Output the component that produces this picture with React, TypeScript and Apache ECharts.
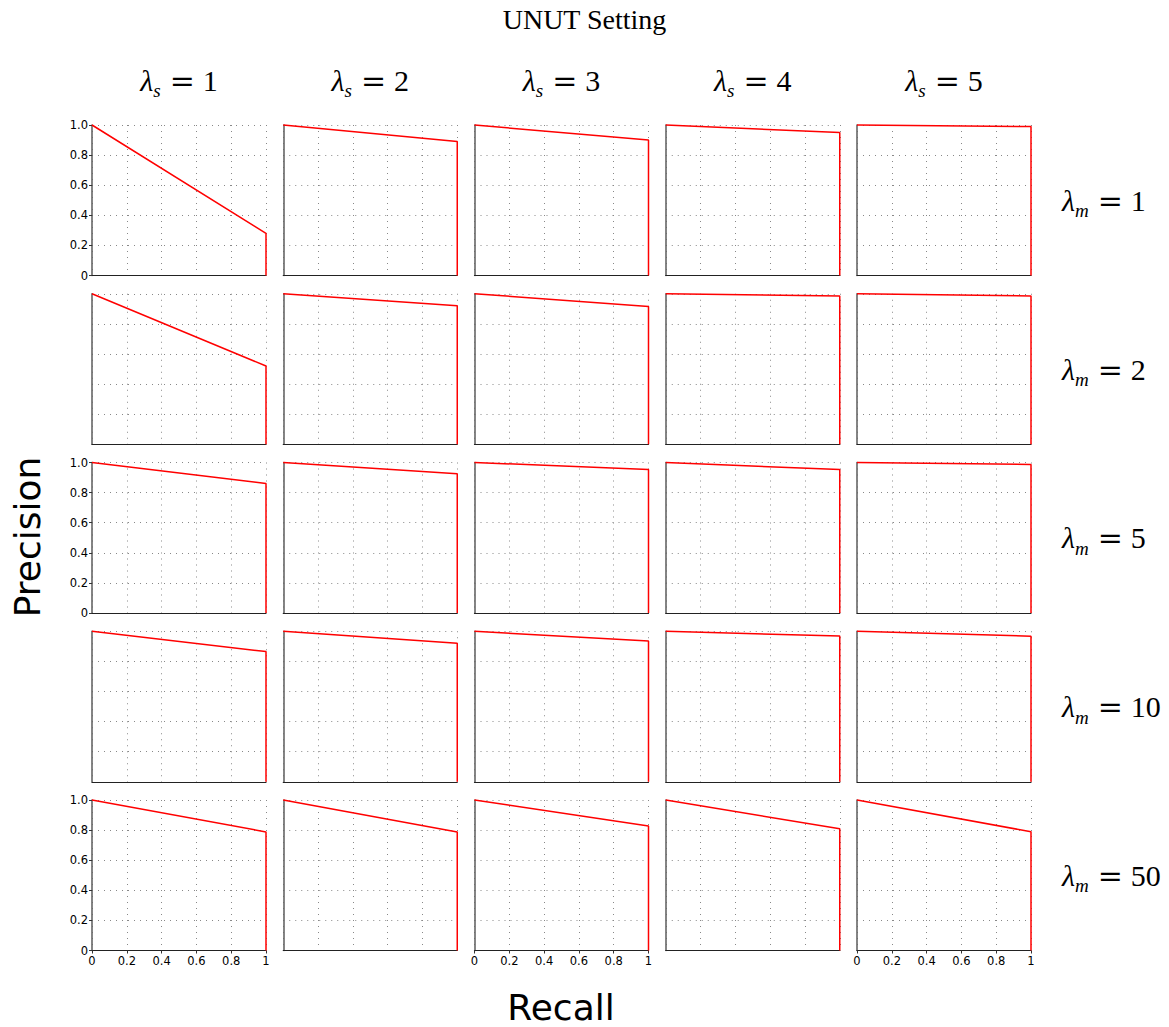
import React, { useEffect, useRef } from "react";
import * as echarts from "echarts";

// Column / row parameters
const lambdaS = [1, 2, 3, 4, 5];
const lambdaM = [1, 2, 5, 10, 50];

// Precision reached at recall = 1 (curve starts at precision 1 at recall 0)
const endPrecisionM1 = [0.28, 0.89, 0.9, 0.95, 0.99];
const endPrecisionM2 = [0.52, 0.92, 0.915, 0.985, 0.985];
const endPrecisionM5 = [0.86, 0.925, 0.953, 0.953, 0.987];
const endPrecisionM10 = [0.865, 0.92, 0.935, 0.968, 0.967];
const endPrecisionM50 = [0.788, 0.787, 0.827, 0.809, 0.789];
const endPrecisionRows = [endPrecisionM1, endPrecisionM2, endPrecisionM5, endPrecisionM10, endPrecisionM50];

const xTicks = [0, 0.2, 0.4, 0.6, 0.8, 1];

const titleText = "UNUT Setting";
const xLabel = "Recall";
const yLabel = "Precision";

export default function App() {
  const ref = useRef<HTMLDivElement>(null);
  useEffect(() => {
    document.body.style.margin = "0";
    const chart = echarts.init(ref.current!, undefined, { renderer: "svg" });
    const grids: any[] = [];
    const xAxes: any[] = [];
    const yAxes: any[] = [];
    const series: any[] = [];
    const graphics: any[] = [];
    const colLeft = (c: number) => 92 + 191.25 * c;
    const rowTop = (r: number) => 125 + 168.75 * r;
    const W = 174;
    const H = 150.5;
    const labX = [0, 2, 4];
    const labY = [0, 2, 4];
    const serif = "'Liberation Serif', 'DejaVu Serif', serif";
    const sans = "'DejaVu Sans', sans-serif";
    const richLambda = () => ({
      l: { fontSize: 30, fontStyle: "italic", fontFamily: serif, color: "#000", lineHeight: 40, verticalAlign: "middle" },
      s: { fontSize: 19, fontStyle: "italic", fontFamily: serif, color: "#000", lineHeight: 40, verticalAlign: "bottom", padding: [0, 0, 0, 0] },
      e: { fontSize: 30, fontFamily: "'DejaVu Serif', serif", color: "#000", lineHeight: 40, verticalAlign: "middle", padding: [0, 8, 0, 9] },
      n: { fontSize: 30, fontFamily: serif, color: "#000", lineHeight: 40, verticalAlign: "middle" },
    });
    for (let r = 0; r < 5; r++) {
      for (let c = 0; c < 5; c++) {
        const i = r * 5 + c;
        grids.push({ left: colLeft(c), top: rowTop(r), width: W, height: H });
        const showX = r === 4 && labX.includes(c);
        const showY = c === 0 && labY.includes(r);
        xAxes.push({
          type: "value",
          gridIndex: i,
          min: 0,
          max: 1,
          interval: 0.2,
          axisLine: { show: true, onZero: false, lineStyle: { color: "#222", width: 1.2 } },
          axisTick: { show: showX, length: 3, lineStyle: { color: "#333" } },
          axisLabel: {
            show: showX,
            fontSize: 11.5,
            fontFamily: sans,
            color: "#000",
            margin: 4,
            formatter: (v: number) => (v === 0 ? "0" : v === 1 ? "1" : v.toFixed(1)),
          },
          splitLine: { show: true, lineStyle: { color: "#888", type: [1, 5], width: 1 } },
        });
        yAxes.push({
          type: "value",
          gridIndex: i,
          min: 0,
          max: 1,
          interval: 0.2,
          axisLine: { show: true, onZero: false, lineStyle: { color: "#666", width: 1.6 } },
          axisTick: { show: showY, length: 3, lineStyle: { color: "#333" } },
          axisLabel: {
            show: showY,
            fontSize: 11.5,
            fontFamily: sans,
            color: "#000",
            margin: 4,
            formatter: (v: number) => (v === 0 ? "0" : v.toFixed(1)),
          },
          splitLine: { show: true, lineStyle: { color: "#888", type: [1, 5], width: 1 } },
        });
        const p = endPrecisionRows[r][c];
        series.push({
          type: "line",
          xAxisIndex: i,
          yAxisIndex: i,
          showSymbol: false,
          symbol: "none",
          clip: false,
          lineStyle: { color: "#ff0000", width: 1.5 },
          data: [
            [xTicks[0], 1],
            [xTicks[5], p],
            [xTicks[5], 0],
          ],
        });
      }
    }
    lambdaS.forEach((v, c) => {
      graphics.push({
        type: "text",
        x: colLeft(c) + W / 2,
        y: 80,
        style: {
          text: `{l|λ}{s|s}{e|=}{n|${v}}`,
          rich: richLambda(),
          align: "center",
          verticalAlign: "middle",
        },
      });
    });
    lambdaM.forEach((v, r) => {
      graphics.push({
        type: "text",
        x: 1062,
        y: rowTop(r) + H / 2,
        style: {
          text: `{l|λ}{s|m}{e|=}{n|${v}}`,
          rich: richLambda(),
          align: "left",
          verticalAlign: "middle",
        },
      });
    });
    graphics.push({
      type: "text",
      x: 27,
      y: 537,
      rotation: Math.PI / 2,
      style: { text: yLabel, fontSize: 36, fontFamily: sans, fill: "#000", align: "center", verticalAlign: "middle" },
    });
    graphics.push({
      type: "text",
      x: 561,
      y: 1007,
      style: { text: xLabel, fontSize: 36, fontFamily: sans, fill: "#000", align: "center", verticalAlign: "middle" },
    });
    chart.setOption({
      animation: false,
      backgroundColor: "#fff",
      title: {
        text: titleText,
        left: "center",
        top: 0,
        textStyle: { fontFamily: serif, fontSize: 28, fontWeight: "normal", color: "#000" },
      },
      grid: grids,
      xAxis: xAxes,
      yAxis: yAxes,
      series,
      graphic: graphics,
    });
    return () => chart.dispose();
  }, []);
  return <div ref={ref} style={{ width: 1169, height: 1027 }} />;
}
